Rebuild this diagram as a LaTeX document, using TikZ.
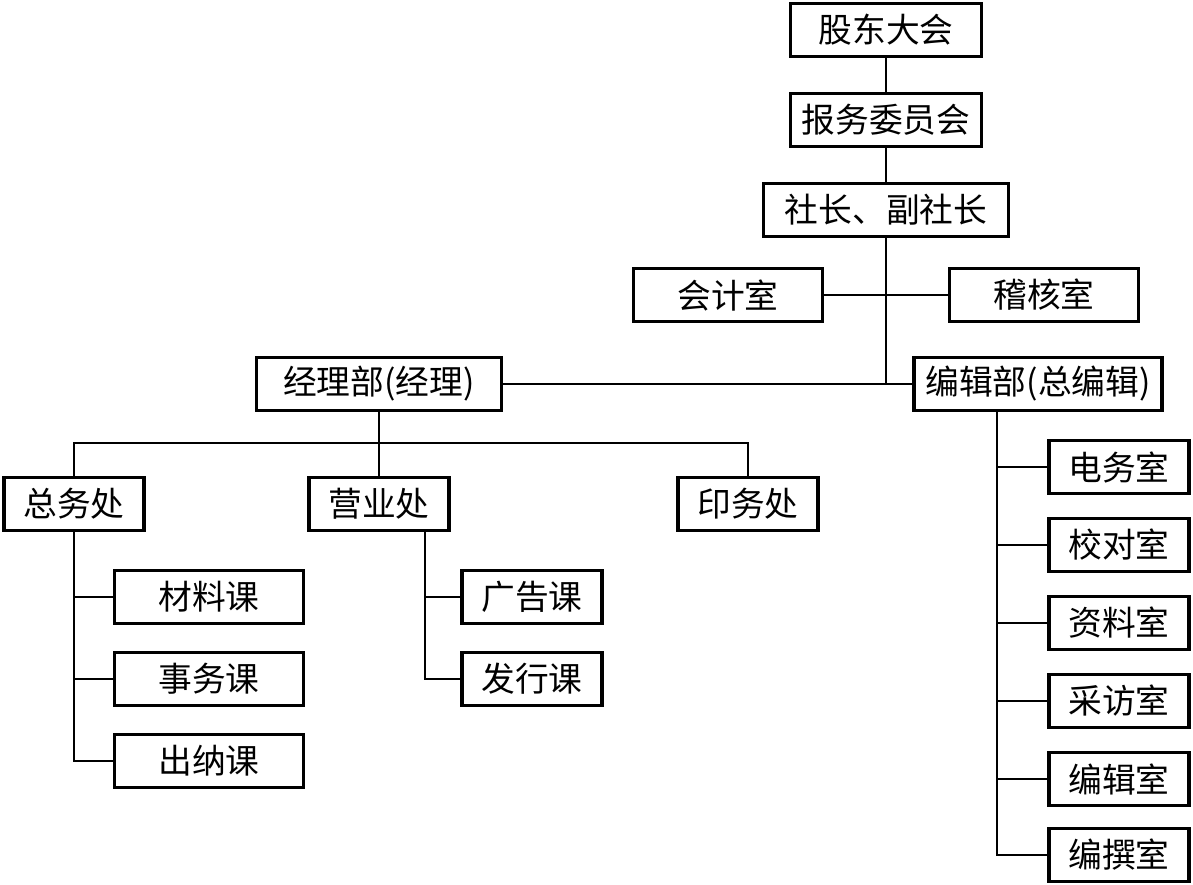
\documentclass[tikz,border=0pt]{standalone}
\usepackage{fontspec}
\setmainfont{Noto Sans CJK SC}
\usepackage{tikz}
\usetikzlibrary{calc}
\tikzset{
  unit/.style = {draw, line width=2.6pt, inner sep=2pt, minimum height=1.33cm,
                 font=\fontsize{24}{28}\selectfont},
  top/.style  = {unit, minimum width=4.78cm},
  wide/.style = {unit, minimum width=6.13cm},
  mid/.style  = {unit, minimum width=4.73cm},
  sec/.style  = {unit, minimum width=3.5cm},
  e/.style    = {line width=1.5pt}
}
\begin{document}
\begin{tikzpicture}[x=0.025cm,y=-0.025cm]
  \useasboundingbox (0,0) rectangle (1193,884);
  % ---- top of the paper ----
  \node[top]  (gd) at (886,30)  {股东大会};
  \node[top]  (bw) at (886,120) {报务委员会};
  \node[wide] (sz) at (886,210) {社长、副社长};
  \node[mid]  (kj) at (728,295) {会计室};
  \node[mid]  (jh) at (1044,295) {稽核室};
  \node[wide] (jl) at (379,384) {经理部(经理)};
  \node[wide, minimum width=6.2cm] (bj) at (1038,384) {编辑部(总编辑)};
  \coordinate (hub) at (886,384);
  \draw[e] (gd) -- (bw);
  \draw[e] (bw) -- (sz);
  \draw[e] (sz) -- (hub);
  \draw[e] (kj) -- (jh);
  \draw[e] (jl) -- (bj);

  % ---- manager side ----
  \node[sec] (zw) at (74,504)  {总务处};
  \node[sec] (yy) at (379,504) {营业处};
  \node[sec] (ys) at (748,504) {印务处};
  \coordinate (jl-b) at (379,443);
  \draw[e] (jl) -- (yy);
  \draw[e] (zw) |- (jl-b) -| (ys);

  \node[mid] (cl) at (209,597) {材料课};
  \node[mid] (sw) at (209,679) {事务课};
  \node[mid] (cn) at (209,761) {出纳课};
  \draw[e] (zw) |- (cl);
  \draw[e] (zw) |- (sw);
  \draw[e] (zw) |- (cn);

  \node[sec] (gg) at (532,597) {广告课};
  \node[sec] (fx) at (532,679) {发行课};
  \coordinate (yy-t) at (425,531);
  \draw[e] (yy-t) |- (gg);
  \draw[e] (yy-t) |- (fx);

  % ---- editor side ----
  \node[sec] (dw) at (1119,467) {电务室};
  \node[sec] (jd) at (1119,545) {校对室};
  \node[sec] (zl) at (1119,623) {资料室};
  \node[sec] (cf) at (1119,701) {采访室};
  \node[sec] (bs) at (1119,779) {编辑室};
  \node[sec] (bz) at (1119,855) {编撰室};
  \coordinate (bj-t) at (997,411);
  \draw[e] (bj-t) |- (dw);
  \draw[e] (bj-t) |- (jd);
  \draw[e] (bj-t) |- (zl);
  \draw[e] (bj-t) |- (cf);
  \draw[e] (bj-t) |- (bs);
  \draw[e] (bj-t) |- (bz);
\end{tikzpicture}
\end{document}
